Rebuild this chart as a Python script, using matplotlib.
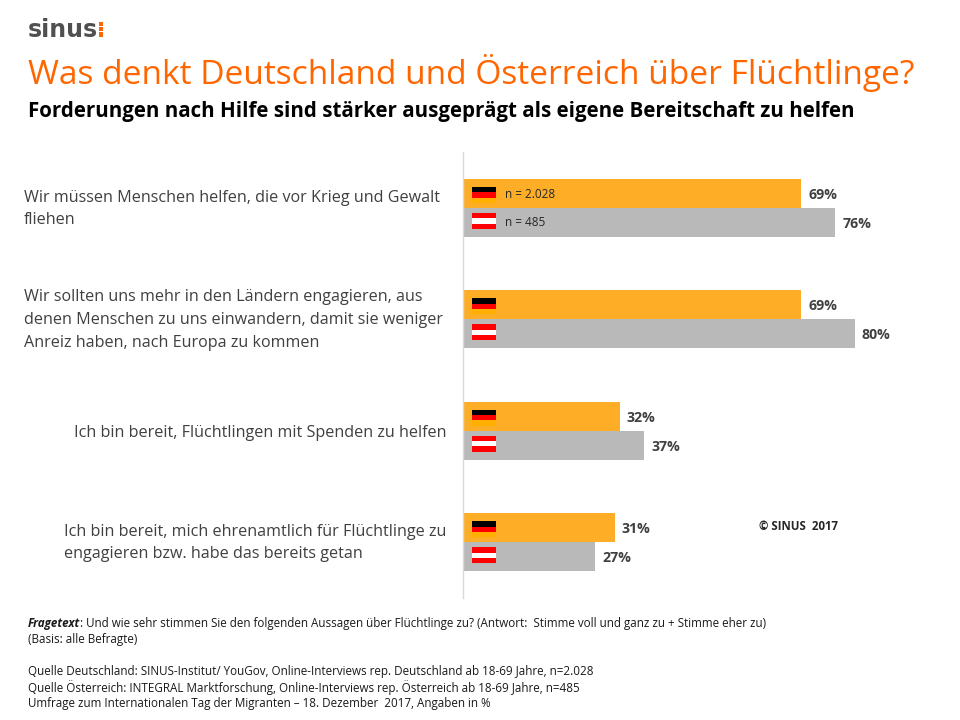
import matplotlib
matplotlib.use("Agg")
import matplotlib.pyplot as plt
from matplotlib.patches import Rectangle

statements = [
    "Wir müssen Menschen helfen, die vor Krieg und Gewalt\nfliehen",
    "Wir sollten uns mehr in den Ländern engagieren, aus\ndenen Menschen zu uns einwandern, damit sie weniger\nAnreiz haben, nach Europa zu kommen",
    "Ich bin bereit, Flüchtlingen mit Spenden zu helfen",
    "Ich bin bereit, mich ehrenamtlich für Flüchtlinge zu\nengagieren bzw. habe das bereits getan",
]
aligns = ["left", "left", "right", "right"]
germany = [69, 69, 32, 31]
austria = [76, 80, 37, 27]
n_labels = ["n = 2.028", "n = 485"]

ORANGE = "#FDAE26"
GREY = "#B9B9B9"
W, H = 960, 720
FONT = "Open Sans"
plt.rcParams["font.family"] = [FONT, "DejaVu Sans"]

fig = plt.figure(figsize=(W / 100, H / 100), dpi=100, facecolor="white")


def fx(x):
    return x / W


def fy(y):
    return 1 - y / H


def txt(x, y, s, **kw):
    kw.setdefault("va", "center")
    kw.setdefault("ha", "left")
    return fig.text(fx(x), fy(y), s, **kw)


left, top, bottom = 463, 152, 598
ax = fig.add_axes([fx(left), fy(bottom), 1 - fx(left), (bottom - top) / H])
ax.set_xlim(0, (W - left) / 4.9)
ax.set_ylim(3.5, -0.5)
h = 0.26
ys = range(len(statements))
ax.barh([y - h / 2 for y in ys], germany, height=h, color=ORANGE)
ax.barh([y + h / 2 for y in ys], austria, height=h, color=GREY)
for s in ("top", "right", "bottom"):
    ax.spines[s].set_visible(False)
ax.spines["left"].set_color("#D9D9D9")
ax.spines["left"].set_linewidth(1.0)
ax.set_xticks([])
ax.set_yticks([])
ax.patch.set_alpha(0)

for y, a, b in zip(ys, germany, austria):
    for offs, v in ((-h / 2, a), (h / 2, b)):
        ax.annotate(f"{v}%", (v, y + offs), xytext=(5, -1.2), textcoords="offset points",
                    va="center", ha="left", fontsize=10.2, fontweight="bold", color="#404040")


def flag(y0, cols):
    """Small flag beside the bar start: 24x16 px, stripes from the top."""
    bh = 16 / H
    for i, c in enumerate(cols):
        fig.add_artist(Rectangle((fx(472), fy(y0) - (i + 1) * bh / 3), 24 / W, bh / 3,
                                 transform=fig.transFigure, facecolor=c, edgecolor="none"))


for y in ys:
    cy = 208 + y * 111.4
    flag(cy - 21, ["#000000", "#FF0000", "#FFB000"])
    flag(cy + 5, ["#FF0000", "#FFFFFF", "#FF0000"])

txt(505, 195, n_labels[0], fontsize=8.5, color="#262626")
txt(505, 222, n_labels[1], fontsize=8.5, color="#262626")

# question labels
centers = [209, 320, 433, 543]
for s, c, al in zip(statements, centers, aligns):
    x = 24 if al == "left" else 446
    fig.text(fx(x), fy(c), s, ha=al, va="center", fontsize=11.65, color="#404040",
             linespacing=1.58, multialignment="left")

# header
txt(28, 30, "sinus", fontsize=17, fontweight="bold", color="#505050", family="DejaVu Sans")
fig.add_artist(Rectangle((fx(99), fy(37)), 4 / W, 15 / H, transform=fig.transFigure,
                         facecolor="#FF6600", edgecolor="none"))
for yy in (27, 32):
    fig.add_artist(Rectangle((fx(98), fy(yy)), 6 / W, 1.4 / H, transform=fig.transFigure,
                             facecolor="white", edgecolor="none"))
txt(28, 73, "Was denkt Deutschland und Österreich über Flüchtlinge?", fontsize=24.1, color="#FF6600")
txt(28, 111, "Forderungen nach Hilfe sind stärker ausgeprägt als eigene Bereitschaft zu helfen",
    fontsize=14.8, fontweight="bold", color="#000000")

txt(759, 526, "© SINUS  2017", fontsize=8.3, fontweight="bold", color="#262626")

# footnotes
fs = 8.4
q = "Und wie sehr stimmen Sie den folgenden Aussagen über Flüchtlinge zu? (Antwort:  Stimme voll und ganz zu + Stimme eher zu)"
txt(28, 623, "Fragetext", fontsize=fs, fontweight="bold", style="italic", color="#1a1a1a")
txt(80, 623, ": " + q, fontsize=fs, color="#1a1a1a")
txt(28, 639, "(Basis: alle Befragte)", fontsize=fs, color="#1a1a1a")
txt(28, 672, "Quelle Deutschland: SINUS-Institut/ YouGov, Online-Interviews rep. Deutschland ab 18-69 Jahre, n=2.028", fontsize=fs, color="#1a1a1a")
txt(28, 688, "Quelle Österreich: INTEGRAL Marktforschung, Online-Interviews rep. Österreich ab 18-69 Jahre, n=485", fontsize=fs, color="#1a1a1a")
txt(28, 703, "Umfrage zum Internationalen Tag der Migranten – 18. Dezember  2017, Angaben in %", fontsize=fs, color="#1a1a1a")

fig.savefig("out.png", dpi=100)
